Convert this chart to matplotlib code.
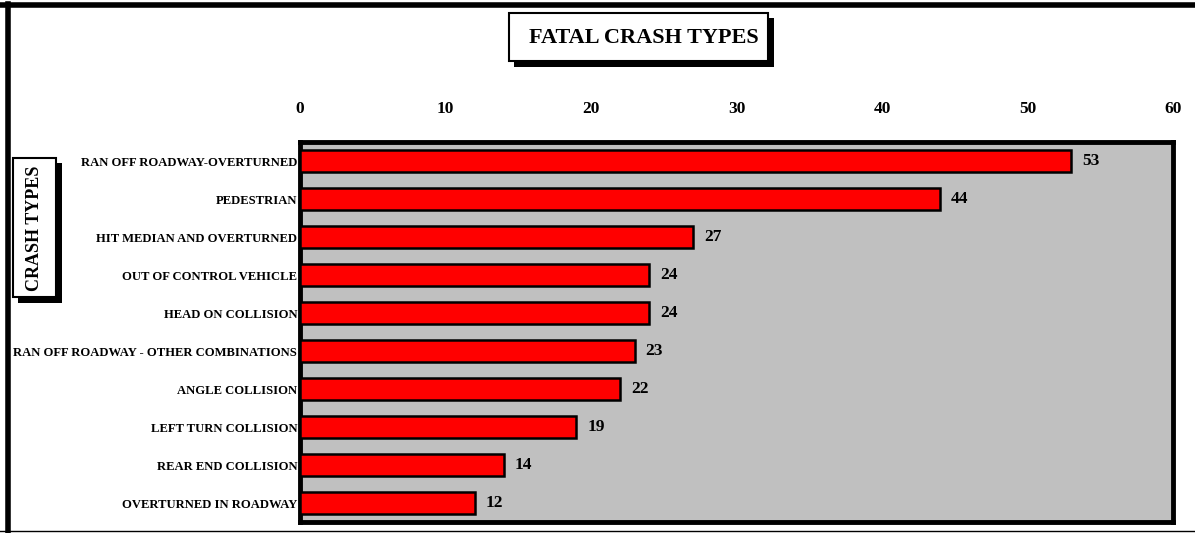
import matplotlib.pyplot as plt
from matplotlib.patches import Rectangle
from matplotlib.lines import Line2D

# data
crash_types = ["RAN OFF ROADWAY-OVERTURNED", "PEDESTRIAN", "HIT MEDIAN AND OVERTURNED",
               "OUT OF CONTROL VEHICLE", "HEAD ON COLLISION",
               "RAN OFF ROADWAY - OTHER COMBINATIONS", "ANGLE COLLISION",
               "LEFT TURN COLLISION", "REAR END COLLISION", "OVERTURNED IN ROADWAY"]
fatal_counts = [53, 44, 27, 24, 24, 23, 22, 19, 14, 12]
x_ticks = [0, 10, 20, 30, 40, 50, 60]

plt.rcParams["font.family"] = ["Liberation Serif", "DejaVu Serif"]
plt.rcParams["font.weight"] = "bold"

W, H = 1195, 533
fig = plt.figure(figsize=(W / 100, H / 100), dpi=100)


def fbox(x0, y0, x1, y1, **kw):
    # rectangle given in pixel coords (top-left origin)
    return Rectangle((x0 / W, 1 - y1 / H), (x1 - x0) / W, (y1 - y0) / H,
                     transform=fig.transFigure, **kw)


# outer frame lines
fig.add_artist(Line2D([0, 1], [1 - 4.5 / H, 1 - 4.5 / H], transform=fig.transFigure, color="black", lw=4))
fig.add_artist(Line2D([8 / W, 8 / W], [1 - 4 / H, 1 - 531 / H], transform=fig.transFigure, color="black", lw=4))
fig.add_artist(Line2D([0, 1], [1 - 531 / H, 1 - 531 / H], transform=fig.transFigure, color="black", lw=1))

ax = fig.add_axes([300 / W, 1 - 522 / H, 873 / W, 380 / H])
ax.set_facecolor("#c0c0c0")

y = list(range(len(crash_types)))
ax.barh(y, fatal_counts, height=0.6, color="#ff0000", edgecolor="black", linewidth=1.8, zorder=3)
for yi, v in zip(y, fatal_counts):
    ax.text(v + 0.75, yi, str(v), va="center", ha="left", fontsize=12.5, fontweight="bold", zorder=4)

ax.set_xlim(0, 60)
ax.set_ylim(len(crash_types) - 0.5, -0.5)
ax.set_xticks(x_ticks)
ax.set_xticklabels([str(t) for t in x_ticks], fontsize=12.5, fontweight="bold")
ax.xaxis.tick_top()
ax.tick_params(axis="x", length=0, pad=18)
ax.set_yticks(y)
ax.set_yticklabels(crash_types, fontsize=9.1, fontweight="bold")
ax.tick_params(axis="y", length=0, pad=2)
for s in ax.spines.values():
    s.set_linewidth(3.5)
    s.set_color("black")

# title box with shadow
fig.add_artist(fbox(514, 18, 774, 67, facecolor="black", edgecolor="none"))
fig.add_artist(fbox(509, 13, 768, 61, facecolor="white", edgecolor="black", linewidth=1.5))
fig.text(644 / W, 1 - 38 / H, "FATAL CRASH TYPES", ha="center", va="center",
         fontsize=16, fontweight="bold")

# y label box with shadow
fig.add_artist(fbox(18, 163, 62, 303, facecolor="black", edgecolor="none"))
fig.add_artist(fbox(13, 158, 56, 297, facecolor="white", edgecolor="black", linewidth=1.5))
fig.text(34.5 / W, 1 - 228 / H, "CRASH TYPES", ha="center", va="center", rotation=90,
         fontsize=13, fontweight="bold")

fig.savefig("out.png", dpi=100)
